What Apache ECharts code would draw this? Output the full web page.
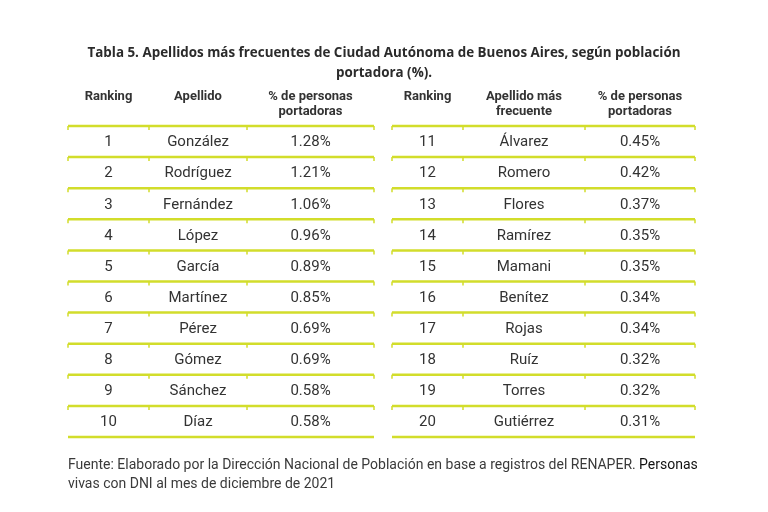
<!DOCTYPE html>
<html>
<head>
<meta charset="utf-8">
<script src="https://cdn.jsdelivr.net/npm/echarts@6/dist/echarts.min.js"></script>
<style>
html,body{margin:0;padding:0;background:#fff;}
#chart{width:768px;height:512px;}
</style>
</head>
<body>
<div id="chart"></div>
<script>
// ---- data ----
const titleText = 'Tabla 5. Apellidos más frecuentes de Ciudad Autónoma de Buenos Aires, según población\nportadora (%).';
const headersLeft = ['Ranking', 'Apellido', '% de personas\nportadoras'];
const headersRight = ['Ranking', 'Apellido más\nfrecuente', '% de personas\nportadoras'];
const ranksLeft = ['1', '2', '3', '4', '5', '6', '7', '8', '9', '10'];
const surnamesLeft = ['González', 'Rodríguez', 'Fernández', 'López', 'García', 'Martínez', 'Pérez', 'Gómez', 'Sánchez', 'Díaz'];
const pctLeft = ['1.28%', '1.21%', '1.06%', '0.96%', '0.89%', '0.85%', '0.69%', '0.69%', '0.58%', '0.58%'];
const ranksRight = ['11', '12', '13', '14', '15', '16', '17', '18', '19', '20'];
const surnamesRight = ['Álvarez', 'Romero', 'Flores', 'Ramírez', 'Mamani', 'Benítez', 'Rojas', 'Ruíz', 'Torres', 'Gutiérrez'];
const pctRight = ['0.45%', '0.42%', '0.37%', '0.35%', '0.35%', '0.34%', '0.34%', '0.32%', '0.32%', '0.31%'];
const footnoteA = 'Fuente: Elaborado por la Dirección Nacional de Población en base a registros del RENAPER.';
const footnoteB = 'Personas';
const footnoteC = 'vivas con DNI al mes de diciembre de 2021';

// ---- layout ----
const edgesLeft = [0, 81, 179, 306];
const edgesRight = [0, 71, 193, 303];
const nRows = ranksLeft.length;
const lineColor = '#d2dd2b';
const textColor = '#333333';

const chart = echarts.init(document.getElementById('chart'), null, {renderer: 'canvas'});

function cellSeries(gridIdx, edges, cols) {
  const data = [];
  const texts = [];
  for (let i = 0; i < nRows; i++) {
    for (let j = 0; j < cols.length; j++) {
      data.push([(edges[j] + edges[j + 1]) / 2, i + 0.5]);
      texts.push(cols[j][i]);
    }
  }
  return {
    type: 'custom', xAxisIndex: gridIdx, yAxisIndex: gridIdx, silent: true,
    data: data,
    renderItem: function (params, api) {
      const p = api.coord([api.value(0), api.value(1)]);
      return {type: 'text', x: p[0], y: p[1] + 1, style: {
        text: texts[params.dataIndex], fill: textColor,
        font: '15px Roboto', textAlign: 'center', textVerticalAlign: 'middle'}};
    }
  };
}

function headerSeries(gridIdx, edges, headers) {
  const data = headers.map((h, j) => [(edges[j] + edges[j + 1]) / 2, -1.18]);
  return {
    type: 'custom', xAxisIndex: gridIdx, yAxisIndex: gridIdx, silent: true, clip: false,
    data: data,
    renderItem: function (params, api) {
      const p = api.coord([api.value(0), api.value(1)]);
      return {type: 'text', x: p[0], y: p[1], style: {
        text: headers[params.dataIndex], fill: textColor,
        font: 'bold 13px Roboto', textAlign: 'center', textVerticalAlign: 'top', lineHeight: 15}};
    }
  };
}

function lineSeries(gridIdx, edges) {
  const data = [];
  for (let i = 0; i <= nRows; i++) data.push([i]);
  return {
    type: 'custom', xAxisIndex: gridIdx, yAxisIndex: gridIdx, silent: true, clip: false,
    data: data,
    renderItem: function (params, api) {
      const y = api.value(0);
      const a = api.coord([edges[0], y]);
      const b = api.coord([edges[edges.length - 1], y]);
      const children = [{type: 'line', shape: {x1: a[0], y1: a[1], x2: b[0], y2: b[1]},
        style: {stroke: lineColor, lineWidth: 2.5}}];
      if (y < nRows) {
        edges.forEach(function (e) {
          const c = api.coord([e, y]);
          children.push({type: 'line', shape: {x1: c[0], y1: c[1], x2: c[0], y2: c[1] + 4},
            style: {stroke: lineColor, lineWidth: 1.5}});
        });
      }
      return {type: 'group', children: children};
    }
  };
}

function axes(edges) {
  return {
    x: {type: 'value', min: 0, max: edges[edges.length - 1], show: false},
    y: {type: 'value', min: 0, max: nRows, inverse: true, show: false}
  };
}
const axL = axes(edgesLeft), axR = axes(edgesRight);

chart.setOption({
  backgroundColor: '#ffffff',
  animation: false,
  graphic: [{
    type: 'text', x: 384, y: 43,
    style: {
      text: titleText, textAlign: 'center', fill: '#2b2b2b',
      font: 'bold 13.4px "Open Sans"', lineHeight: 20
    }
  }, {
    type: 'text', x: 68, y: 456,
    style: {
      text: '{a|' + footnoteA + '} {b|' + footnoteB + '}\n{a|' + footnoteC + '}',
      rich: {
        a: {font: '14px Roboto', fill: '#3a3a3a', lineHeight: 19},
        b: {font: '14px Roboto', fill: '#111111', lineHeight: 19}
      }
    }
  }],
  grid: [
    {left: 68, top: 126, width: edgesLeft[3], height: 311},
    {left: 392, top: 126, width: edgesRight[3], height: 311}
  ],
  xAxis: [Object.assign({gridIndex: 0}, axL.x), Object.assign({gridIndex: 1}, axR.x)],
  yAxis: [Object.assign({gridIndex: 0}, axL.y), Object.assign({gridIndex: 1}, axR.y)],
  series: [
    lineSeries(0, edgesLeft),
    lineSeries(1, edgesRight),
    headerSeries(0, edgesLeft, headersLeft),
    headerSeries(1, edgesRight, headersRight),
    cellSeries(0, edgesLeft, [ranksLeft, surnamesLeft, pctLeft]),
    cellSeries(1, edgesRight, [ranksRight, surnamesRight, pctRight])
  ]
});
</script>
</body>
</html>
